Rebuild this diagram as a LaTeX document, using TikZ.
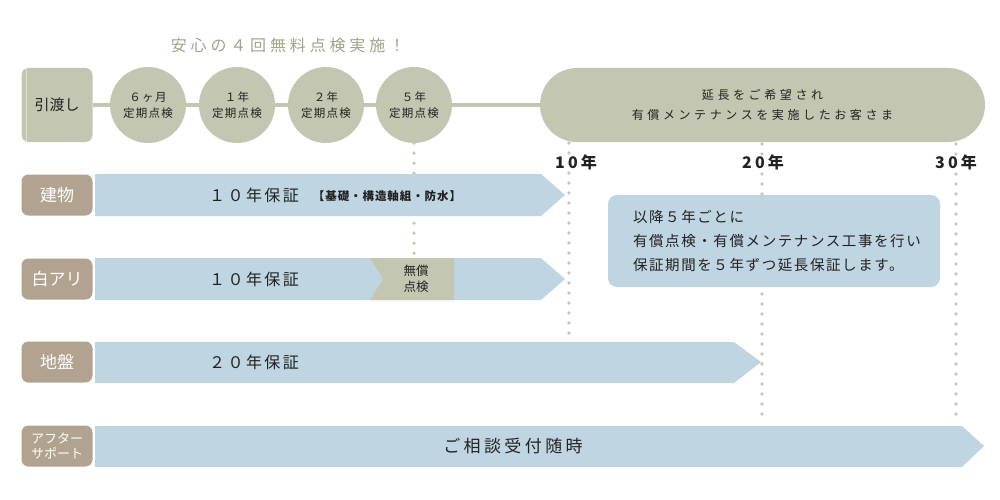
\documentclass[tikz,border=0pt]{standalone}
\usepackage{fontspec}
\setmainfont{Noto Sans CJK JP}
\usetikzlibrary{positioning,backgrounds}
\definecolor{sage}{HTML}{C3C6B0}
\definecolor{dotc}{HTML}{C8C9B5}
\definecolor{taupe}{HTML}{B1A38F}
\definecolor{skyband}{HTML}{BFD5E1}
\definecolor{titlec}{HTML}{9EA38A}
\definecolor{ink}{HTML}{222222}

\begin{document}
\begin{tikzpicture}[
  x=1pt, y=-1pt,
  check/.style={circle, fill=sage, minimum size=76pt, inner sep=0pt, align=center, text=ink,
    font=\fontsize{11.5}{16}\selectfont\addfontfeature{LetterSpace=11}},
  tag/.style={rounded corners=7pt, fill=taupe, text=white, minimum width=71pt, minimum height=41pt,
    inner sep=0pt, align=center, font=\fontsize{17}{19}\selectfont},
  band/.style={fill=skyband},
  bandtext/.style={text=ink, font=\fontsize{16}{18}\selectfont\addfontfeature{LetterSpace=15}},
  year/.style={text=ink, font=\fontsize{16}{18}\selectfont\bfseries\addfontfeature{LetterSpace=20}},
  dots/.style={dotc, line width=3.6pt, line cap=round, dash pattern=on 0pt off 10pt},
  tl/.style={sage, line width=4pt}
]
\useasboundingbox (0,0) rectangle (1000,500);

% title
\node[text=titlec, font=\fontsize{16}{18}\selectfont\addfontfeature{LetterSpace=24}] (title) at (288,45) {安心の４回無料点検実施！};

% timeline
\node[rounded corners=7pt, fill=sage, minimum width=71pt, minimum height=74pt, inner sep=0pt, text=ink,
  font=\fontsize{15}{17}\selectfont] (hand) at (57,105) {引渡し};
\draw[sage!55!white, line width=1pt] ([xshift=5pt]hand.north west) -- ([xshift=5pt]hand.south west);
\node[check] (c1) at (148,105) {６ヶ月\\定期点検};
\node[check] (c2) at (237,105) {１年\\定期点検};
\node[check] (c3) at (326,105) {２年\\定期点検};
\node[check] (c4) at (414,105) {５年\\定期点検};
\node[rounded corners=37pt, fill=sage, minimum width=445pt, minimum height=74pt, inner sep=0pt, align=center,
  text=ink, font=\fontsize{12}{20}\selectfont\addfontfeature{LetterSpace=30}] (pill) at (762.5,105)
  {延長をご希望され\\有償メンテナンスを実施したお客さま};
\begin{scope}[on background layer]
  \draw[tl] (hand) -- (pill);
\end{scope}

% year marks
\coordinate (y10top) at (569,143);
\coordinate (y10end) at (569,338);
\coordinate (y20top) at (762,144);
\coordinate (y20end) at (762,424);
\coordinate (y30top) at (956,144);
\coordinate (y30end) at (956,424);
\coordinate (c4end) at (414,256);
\draw[dots] (y10top) -- (y10end);
\draw[dots] (y20top) -- (y20end);
\draw[dots] (y30top) -- (y30end);
\draw[dots] (c4.south) -- (c4end);
\node[year] (y10) at (576,162) {10年};
\node[year] (y20) at (763,162) {20年};
\node[year] (y30) at (956,162) {30年};

% rows
\node[tag] (bldg) at (57,195) {建物};
\fill[band] (95,174) -- (541,174) -- (565,195) -- (541,216) -- (95,216) -- cycle;
\node[bandtext] (bldgtxt) at (254,195) {１０年保証};
\node[text=ink, font=\fontsize{11.5}{13}\selectfont\bfseries\addfontfeature{LetterSpace=8}] (bldgsub) at (387,196) {【基礎・構造軸組・防水】};

\node[tag] (ant) at (57,279) {白アリ};
\fill[band] (95,258) -- (541,258) -- (565,279) -- (541,300) -- (95,300) -- cycle;
\fill[sage] (370,258) -- (454,258) -- (454,300) -- (370,300) -- (383,279) -- cycle;
\node[bandtext] (anttxt) at (254,279) {１０年保証};
\node[text=ink, align=center, font=\fontsize{12.5}{16}\selectfont] (free) at (416,279) {無償\\点検};

\node[tag] (soil) at (57,362) {地盤};
\fill[band] (95,342) -- (734,342) -- (761,362) -- (734,383) -- (95,383) -- cycle;
\node[bandtext] (soiltxt) at (254,362) {２０年保証};

\node[tag, font=\fontsize{13}{15}\selectfont] (after) at (57,446) {アフター\\サポート};
\fill[band] (95,426) -- (962,426) -- (984,446) -- (962,467) -- (95,467) -- cycle;
\node[bandtext, font=\fontsize{17}{19}\selectfont\addfontfeature{LetterSpace=20}] (aftertxt) at (513,446) {ご相談受付随時};

% note
\node[rounded corners=9pt, fill=skyband, text=ink, minimum width=332pt, minimum height=92pt,
  text width=282pt, inner xsep=25pt, align=left,
  font=\fontsize{14.5}{24}\selectfont\addfontfeature{LetterSpace=11}] (note) at (774,241)
  {以降５年ごとに\\有償点検・有償メンテナンス工事を行い\\保証期間を５年ずつ延長保証します。};
\end{tikzpicture}
\end{document}
